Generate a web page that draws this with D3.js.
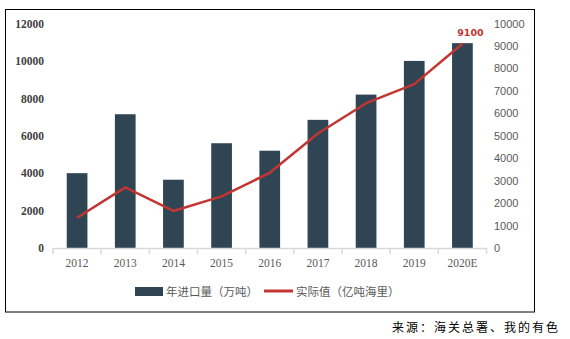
<!DOCTYPE html>
<html>
<head>
<meta charset="utf-8">
<script src="https://cdn.jsdelivr.net/npm/d3@7/dist/d3.min.js"></script>
<style>
  html, body { margin: 0; padding: 0; background: #fff; }
  svg { display: block; }
</style>
</head>
<body>
<svg id="chart" width="570" height="339"></svg>
<script>
// ---- data ----
const categories = ["2012", "2013", "2014", "2015", "2016", "2017", "2018", "2019", "2020E"];
const importVolume = [4000, 7150, 3650, 5600, 5200, 6850, 8200, 10000, 10950]; // 年进口量（万吨）
const actualValue = [1350, 2700, 1650, 2300, 3350, 5100, 6450, 7300, 9100];   // 实际值（亿吨海里）
const leftTicks = [0, 2000, 4000, 6000, 8000, 10000, 12000];
const rightTicks = [0, 1000, 2000, 3000, 4000, 5000, 6000, 7000, 8000, 9000, 10000];
const seriesNames = ["年进口量（万吨）", "实际值（亿吨海里）"];
const sourceText = "来源：海关总署、我的有色";
const lastLabel = "9100";

const svg = d3.select("#chart");
const barColor = "#2f4554";
const lineColor = "#c23531";

// frame
svg.append("rect").attr("x", 5.5).attr("y", 9.5).attr("width", 529).attr("height", 302.5)
  .attr("fill", "none").attr("stroke", "#000").attr("stroke-width", 1);

const x = d3.scaleBand().domain(categories).range([53, 486.5]).padding(0);
const yL = d3.scaleLinear().domain([0, 12000]).range([248, 23.5]);
const yR = d3.scaleLinear().domain([0, 10000]).range([248, 23.5]);
const barW = x.bandwidth() * 0.43;
const cx = d => x(d) + x.bandwidth() / 2;

// bars
svg.append("g").selectAll("rect").data(categories).join("rect")
  .attr("x", d => cx(d) - barW / 2)
  .attr("y", (d, i) => yL(importVolume[i]))
  .attr("width", barW)
  .attr("height", (d, i) => yL(0) - yL(importVolume[i]))
  .attr("fill", barColor);

// x axis
const xAxis = svg.append("g").attr("transform", `translate(0,${yL(0)})`)
  .call(d3.axisBottom(x).tickSize(0).tickPadding(11));
xAxis.select(".domain").attr("stroke", "#d9d9d9").attr("stroke-width", 1.5);
xAxis.selectAll("text").attr("font-family", "Liberation Serif, serif").attr("font-size", 11.5).attr("fill", "#595959");
const boundaries = categories.map(d => x(d)).concat([x.range()[1]]);
xAxis.selectAll(".bnd").data(boundaries).join("line").attr("class", "bnd")
  .attr("x1", d => d).attr("x2", d => d).attr("y1", 0).attr("y2", 6)
  .attr("stroke", "#d9d9d9").attr("stroke-width", 1.5);

// left axis
const lAxis = svg.append("g").attr("transform", "translate(44,0)")
  .call(d3.axisLeft(yL).tickValues(leftTicks).tickSize(0).tickPadding(0).tickFormat(d3.format("d")));
lAxis.select(".domain").remove();
lAxis.selectAll("text").attr("font-family", "Liberation Serif, serif").attr("font-weight", "bold")
  .attr("font-size", 11.5).attr("fill", "#404040");

// right axis
const rAxis = svg.append("g").attr("transform", "translate(494,0)")
  .call(d3.axisRight(yR).tickValues(rightTicks).tickSize(0).tickPadding(0).tickFormat(d3.format("d")));
rAxis.select(".domain").remove();
rAxis.selectAll("text").attr("font-family", "Liberation Sans, Arial, sans-serif")
  .attr("font-size", 11).attr("fill", "#595959");

// line
const line = d3.line().x(d => cx(d[0])).y(d => yR(d[1]));
svg.append("path").datum(categories.map((c, i) => [c, actualValue[i]]))
  .attr("d", line).attr("fill", "none").attr("stroke", lineColor)
  .attr("stroke-width", 2.5).attr("stroke-linejoin", "round");

// last label
const lastCat = categories[categories.length - 1];
svg.append("text").attr("x", cx(lastCat) + 8).attr("y", yR(actualValue[actualValue.length - 1]) - 8)
  .attr("text-anchor", "middle").attr("font-family", "DejaVu Sans, sans-serif").attr("font-weight", "bold")
  .attr("font-size", 9.5).attr("fill", lineColor).text(lastLabel);

// legend
const lg = svg.append("g").attr("font-family", "Noto Sans CJK SC, sans-serif").attr("font-size", 11.5).attr("fill", "#595959");
lg.append("rect").attr("x", 135).attr("y", 287).attr("width", 28).attr("height", 9).attr("fill", barColor);
lg.append("text").attr("x", 166).attr("y", 295.5).text(seriesNames[0]);
lg.append("line").attr("x1", 264).attr("x2", 293).attr("y1", 291).attr("y2", 291)
  .attr("stroke", lineColor).attr("stroke-width", 3);
lg.append("text").attr("x", 296).attr("y", 295.5).text(seriesNames[1]);

// source
svg.append("text").attr("x", 392).attr("y", 332).attr("font-family", "Noto Sans CJK SC, sans-serif")
  .attr("font-size", 12).attr("letter-spacing", 2).attr("fill", "#000").text(sourceText);
</script>
</body>
</html>
